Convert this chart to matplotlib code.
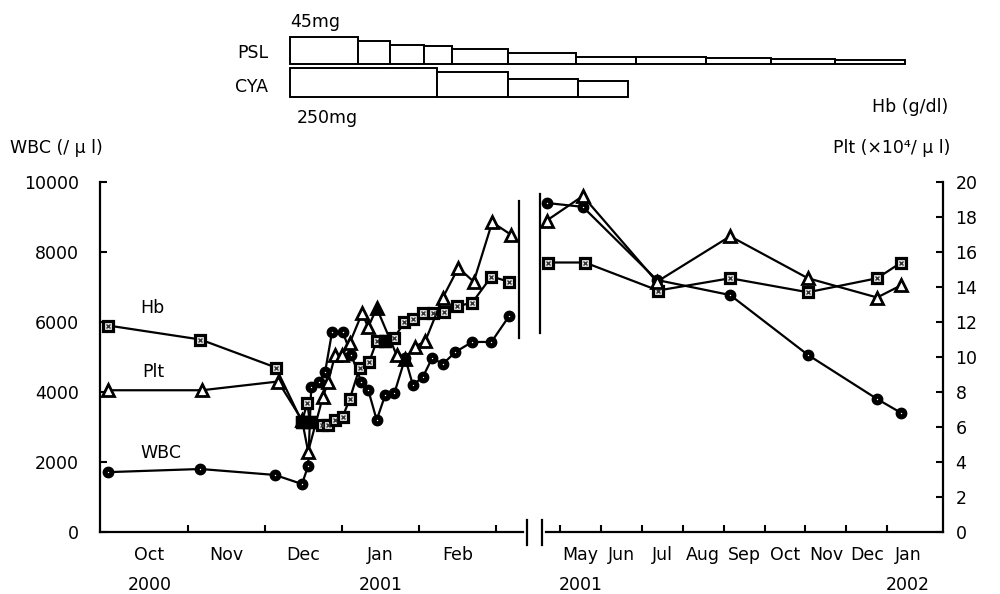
import numpy as np
import matplotlib
matplotlib.use("Agg")
import matplotlib.pyplot as plt
from matplotlib.lines import Line2D
from matplotlib.transforms import blended_transform_factory

plt.rcParams['font.family'] = ['DejaVu Sans']
plt.rcParams['font.size'] = 12.5

# ---- dosing bars (segment edges in arbitrary time units, dose per segment)
psl_edges = [0, 68, 100, 134, 162, 218, 286, 346, 416, 481, 545, 615]
psl_dose = [45, 38, 31, 29, 24, 18, 12, 11, 9.4, 7.7, 6]
cya_edges = [0, 147, 218, 288, 338]
cya_dose = [250, 215, 156, 141]

# ---- period 1: months since 1 Oct 2000
wbc1_x = [-0.04, 1.16, 2.13, 2.48, 2.56, 2.60, 2.70, 2.78, 2.87, 3.01, 3.12, 3.25, 3.34,
          3.45, 3.56, 3.68, 3.82, 3.92, 4.05, 4.17, 4.31, 4.47, 4.69, 4.94, 5.17]
wbc1 = [1710, 1800, 1630, 1370, 1890, 4140, 4290, 4570, 5710, 5710, 5060, 4290, 4060,
        3200, 3910, 3970, 4970, 4200, 4430, 4970, 4800, 5140, 5430, 5430, 6170]

hb1_x = [-0.04, 1.16, 2.14, 2.48, 2.55, 2.58, 2.74, 2.82, 2.91, 3.01, 3.10, 3.23, 3.35,
         3.45, 3.56, 3.68, 3.81, 3.92, 4.05, 4.18, 4.32, 4.49, 4.69, 4.94, 5.17]
hb1 = [11.8, 11.0, 9.4, 6.3, 7.4, 6.3, 6.1, 6.1, 6.4, 6.6, 7.6, 9.4, 9.7,
       10.9, 10.9, 11.1, 12.0, 12.2, 12.5, 12.5, 12.6, 12.9, 13.1, 14.6, 14.3]
hb1_filled = [3, 5, 14]

plt1_x = [-0.04, 1.18, 2.17, 2.48, 2.56, 2.75, 2.82, 2.91, 3.00, 3.10, 3.26, 3.34, 3.45,
          3.71, 3.82, 3.95, 4.08, 4.31, 4.51, 4.71, 4.95, 5.19]
plt1 = [8.1, 8.1, 8.6, 6.4, 4.6, 7.7, 8.6, 10.1, 10.1, 10.8, 12.5, 11.7, 12.8,
        10.1, 9.9, 10.6, 10.9, 13.4, 15.1, 14.3, 17.7, 17.0]
plt1_filled = [3, 12, 14]

months1 = ['Oct', 'Nov', 'Dec', 'Jan', 'Feb']
years1 = [(0.5, '2000'), (3.5, '2001')]

# ---- period 2: months since 1 May 2001
wbc2_x = [-0.32, 0.56, 2.37, 4.16, 6.06, 7.75, 8.34]
wbc2 = [9400, 9290, 7200, 6770, 5060, 3800, 3400]
hb2_x = [-0.29, 0.61, 2.40, 4.16, 6.06, 7.75, 8.34]
hb2 = [15.4, 15.4, 13.8, 14.5, 13.7, 14.5, 15.4]
plt2_x = [-0.32, 0.56, 2.37, 4.16, 6.06, 7.75, 8.34]
plt2 = [17.8, 19.2, 14.3, 16.9, 14.5, 13.4, 14.1]

months2 = ['May', 'Jun', 'Jul', 'Aug', 'Sep', 'Oct', 'Nov', 'Dec', 'Jan']
years2 = [(0.5, '2001'), (8.5, '2002')]

W, H = 1000, 594
fig = plt.figure(figsize=(10, 5.94), dpi=100)


def fx(px):
    return px / W


def fy(py):
    return 1 - py / H


LW = 1.6


def draw_wbc(ax, x, y):
    ax.plot(x, y, '-', color='black', lw=LW, marker='o', ms=7.5, mfc='black',
            mec='black', clip_on=False, zorder=3)
    ax.plot(x, y, ' ', marker='o', ms=1.0, mfc='white', mec='white', mew=0,
            clip_on=False, zorder=4)


def draw_hb(ax, x, y, filled=()):
    ax.plot(x, y, '-', color='black', lw=LW, marker='s', ms=7, mfc='#e8e8e8',
            mec='black', mew=2.3, clip_on=False, zorder=3)
    ax.plot(x, y, ' ', marker='x', ms=2.8, mec='#333333', mew=1.0, clip_on=False, zorder=4)
    if filled:
        ax.plot([x[i] for i in filled], [y[i] for i in filled], ' ', marker='s', ms=8.5,
                mfc='black', mec='black', clip_on=False, zorder=5)


def draw_plt(ax, x, y, filled=()):
    ax.plot(x, y, '-', color='black', lw=LW, marker='^', ms=8.5, mfc='white',
            mec='black', mew=2.0, clip_on=False, zorder=3)
    if filled:
        ax.plot([x[i] for i in filled], [y[i] for i in filled], ' ', marker='^', ms=9,
                mfc='black', mec='black', clip_on=False, zorder=5)


def style_time_axis(ax, first_tick, labels, years):
    ax.set_xticks(np.arange(first_tick, len(labels) + first_tick))
    ax.set_xticks(np.arange(len(labels)) + 0.5, minor=True)
    ax.set_xticklabels([])
    ax.set_xticklabels(labels, minor=True)
    ax.tick_params(axis='x', which='major', direction='in', length=5, width=1.5)
    ax.tick_params(axis='x', which='minor', length=0, pad=10)
    tr = blended_transform_factory(ax.transData, ax.transAxes)
    for xpos, yr in years:
        ax.text(xpos, -0.151, yr, transform=tr, ha='center', va='center')


# ---- left panel
ax1 = fig.add_axes([fx(100), fy(532), (523 - 100) / W, (532 - 182) / H])
ax1.set_xlim(-0.143, 5.35)
ax1.set_ylim(0, 10000)
ax1.set_yticks(np.arange(0, 10001, 2000))
ax1.tick_params(axis='y', direction='in', length=5, width=1.5, pad=15)
for s in ['top', 'right']:
    ax1.spines[s].set_visible(False)
for s in ['left', 'bottom']:
    ax1.spines[s].set_linewidth(1.6)
style_time_axis(ax1, 1, months1, years1)
draw_wbc(ax1, wbc1_x, wbc1)

ax1r = ax1.twinx()
ax1r.set_ylim(0, 20)
ax1r.axis('off')
draw_hb(ax1r, hb1_x, hb1, hb1_filled)
draw_plt(ax1r, plt1_x, plt1, plt1_filled)

# ---- right panel
ax2 = fig.add_axes([fx(546), fy(532), (943 - 546) / W, (532 - 182) / H])
ax2.set_xlim(-0.34, 9.36)
ax2.set_ylim(0, 10000)
ax2.set_yticks([])
for s in ['top', 'right', 'left']:
    ax2.spines[s].set_visible(False)
ax2.spines['bottom'].set_linewidth(1.6)
style_time_axis(ax2, 0, months2, years2)
draw_wbc(ax2, wbc2_x, wbc2)

ax2r = ax2.twinx()
ax2r.set_ylim(0, 20)
ax2r.set_yticks(np.arange(0, 21, 2))
ax2r.tick_params(axis='y', direction='in', length=5, width=1.5, pad=9)
for s in ['top', 'left', 'bottom']:
    ax2r.spines[s].set_visible(False)
ax2r.spines['right'].set_linewidth(1.6)
draw_hb(ax2r, hb2_x, hb2)
draw_plt(ax2r, plt2_x, plt2)

# ---- axis break marks
for x0, y0, y1 in [(527, 520, 545), (542, 520, 545), (519, 201, 338), (540, 194, 333)]:
    fig.add_artist(Line2D([fx(x0), fx(x0)], [fy(y0), fy(y1)], color='black', lw=1.6))

# ---- dosing bars
axp = fig.add_axes([fx(290), fy(64), (905 - 290) / W, (64 - 36.7) / H])
axp.set_xlim(0, psl_edges[-1])
axp.set_ylim(0, max(psl_dose))
axp.bar(psl_edges[:-1], psl_dose, width=np.diff(psl_edges), align='edge',
        color='white', edgecolor='black', lw=1.4, clip_on=False)
axp.axis('off')

axc = fig.add_axes([fx(290), fy(96.7), (905 - 290) / W, (96.7 - 68.3) / H])
axc.set_xlim(0, psl_edges[-1])
axc.set_ylim(0, max(cya_dose))
axc.bar(cya_edges[:-1], cya_dose, width=np.diff(cya_edges), align='edge',
        color='white', edgecolor='black', lw=1.4, clip_on=False)
axc.axis('off')

# ---- texts
fig.text(fx(290), fy(22), '45mg', ha='left', va='center')
fig.text(fx(268), fy(53), 'PSL', ha='right', va='center')
fig.text(fx(268), fy(87), 'CYA', ha='right', va='center')
fig.text(fx(297), fy(118), '250mg', ha='left', va='center')
fig.text(fx(10), fy(148), 'WBC (/ μ l)', ha='left', va='center')
fig.text(fx(948), fy(107), 'Hb (g/dl)', ha='right', va='center')
fig.text(fx(950), fy(148), 'Plt (×10⁴/ μ l)', ha='right', va='center')
fig.text(fx(140), fy(308), 'Hb', ha='left', va='center')
fig.text(fx(142), fy(372), 'Plt', ha='left', va='center')
fig.text(fx(140), fy(453), 'WBC', ha='left', va='center')

fig.savefig('out.png', dpi=100)
